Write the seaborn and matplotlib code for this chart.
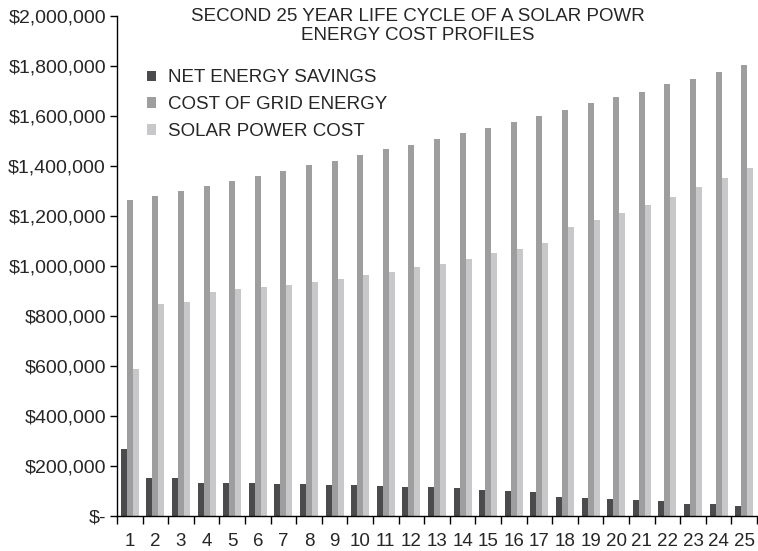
import matplotlib
matplotlib.use("Agg")
import matplotlib.pyplot as plt
from matplotlib.patches import Patch
from matplotlib.ticker import FuncFormatter, FixedLocator
import numpy as np
import pandas as pd
import seaborn as sns

years = [str(i) for i in range(1, 26)]

net_energy_savings = [268000, 151000, 151000, 131000, 131000, 131000, 127000, 127000,
                      123000, 123000, 119000, 115000, 115000, 111000, 103000, 99000,
                      95000, 75000, 71000, 67000, 63000, 59000, 47000, 47000, 39000]
cost_of_grid_energy = [1263000, 1279000, 1299000, 1319000, 1339000, 1359000, 1379000,
                       1403000, 1419000, 1443000, 1467000, 1483000, 1507000, 1531000,
                       1551000, 1575000, 1599000, 1623000, 1651000, 1675000, 1695000,
                       1727000, 1747000, 1775000, 1803000]
solar_power_cost = [587000, 847000, 855000, 895000, 907000, 915000, 923000, 935000,
                    947000, 963000, 975000, 995000, 1007000, 1027000, 1051000, 1067000,
                    1091000, 1155000, 1183000, 1211000, 1243000, 1275000, 1315000,
                    1351000, 1391000]

series_names = ["NET ENERGY SAVINGS", "COST OF GRID ENERGY", "SOLAR POWER COST"]
series_colors = ["#4b4b4d", "#9e9e9f", "#c8c8ca"]

df = pd.DataFrame({
    "Year": years * 3,
    "Value": net_energy_savings + cost_of_grid_energy + solar_power_cost,
    "Series": [series_names[0]] * 25 + [series_names[1]] * 25 + [series_names[2]] * 25,
})

sns.set_theme(style="white")
plt.rcParams["font.family"] = ["Liberation Sans", "DejaVu Sans"]

fig = plt.figure(figsize=(7.58, 5.51), dpi=100)
ax = fig.add_axes([117 / 758, 35 / 551, 640 / 758, 500 / 551])

sns.barplot(data=df, x="Year", y="Value", hue="Series", hue_order=series_names,
            palette=series_colors, width=0.7, saturation=1, linewidth=0,
            edgecolor="none", ax=ax, legend=False)

ax.set_xlim(-0.5, 24.5)
ax.set_ylim(0, 2000000)
ax.set_yticks(np.arange(0, 2000001, 200000))
ax.yaxis.set_major_formatter(FuncFormatter(lambda v, p: "$-" if v == 0 else f"${v:,.0f}"))
ax.tick_params(axis="y", which="major", direction="out", length=5, width=1,
               color="black", labelsize=14, pad=3, left=True)

# category labels at bar centres, tick marks on the category boundaries
ax.xaxis.set_major_locator(FixedLocator(np.arange(-0.5, 25, 1.0)))
ax.xaxis.set_minor_locator(FixedLocator(np.arange(0, 25, 1.0)))
ax.set_xticklabels([])
ax.set_xticklabels(years, minor=True)
ax.tick_params(axis="x", which="major", direction="out", length=6, width=1,
               color="black", bottom=True)
ax.tick_params(axis="x", which="minor", length=0, labelsize=13.5, pad=12)

ax.set_xlabel("")
ax.set_ylabel("")
for side in ["top", "right"]:
    ax.spines[side].set_visible(False)
for side in ["left", "bottom"]:
    ax.spines[side].set_color("black")
    ax.spines[side].set_linewidth(1)

handles = [Patch(facecolor=c, edgecolor="none", linewidth=0) for c in series_colors]
ax.legend(handles, series_names, loc="upper left", frameon=False,
          bbox_to_anchor=(146.5 / 758, 1 - 69.5 / 551), bbox_transform=fig.transFigure,
          fontsize=13.5, handlelength=0.5, handleheight=0.5, handletextpad=0.62,
          labelspacing=0.53, borderpad=0, borderaxespad=0)

fig.text(418 / 758, 1 - 16.5 / 551, "SECOND 25 YEAR LIFE CYCLE OF A SOLAR POWR",
         ha="center", va="center", fontsize=13.5)
fig.text(418 / 758, 1 - 36 / 551, "ENERGY COST PROFILES",
         ha="center", va="center", fontsize=13.5)

fig.savefig("out.png", dpi=100)
